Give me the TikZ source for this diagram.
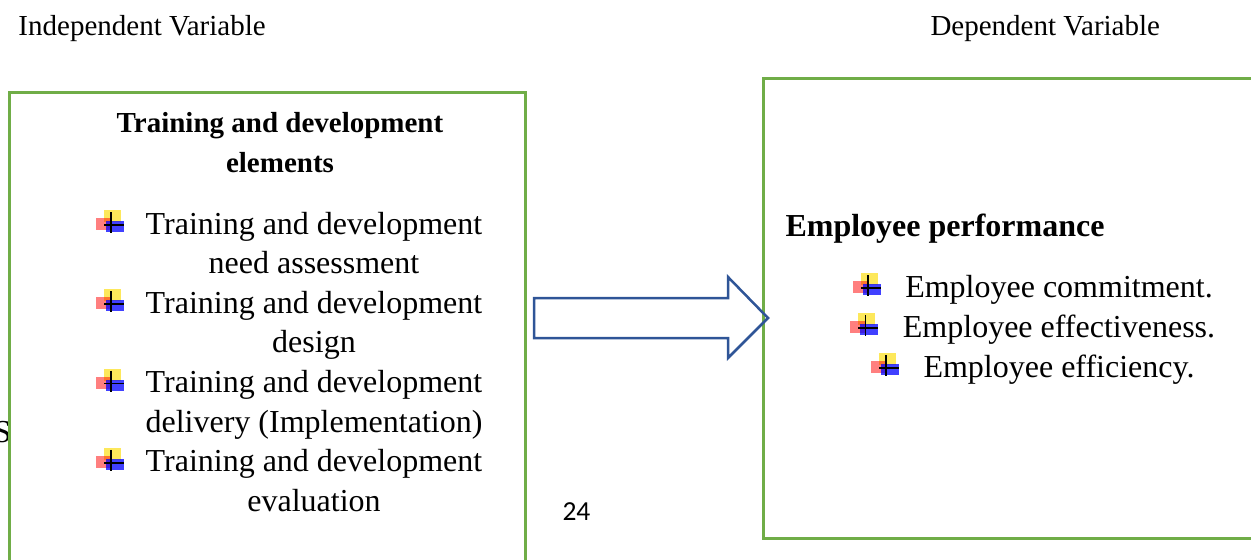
\documentclass[tikz,border=0pt]{standalone}
\usepackage{fontspec}
\setmainfont{Liberation Serif}
\newfontfamily\calibri{Carlito}
\usetikzlibrary{calc}

\definecolor{boxgreen}{RGB}{112,173,71}
\definecolor{arrowblue}{RGB}{47,85,151}

\tikzset{
  varbox/.style={draw=boxgreen, line width=1.2pt, fill=white},
  heading/.style={font=\fontsize{11.6}{14}\selectfont\bfseries, inner sep=0},
  listline/.style={font=\fontsize{12.8}{15.8}\selectfont, anchor=base, inner sep=0},
  varlabel/.style={font=\fontsize{11.6}{14}\selectfont, anchor=base west, inner sep=0},
  blockarrow/.style={draw=arrowblue, line width=1pt, line join=miter},
  tdicon/.pic={
    \fill[yellow!80!orange, opacity=0.65] (-8,-13) rectangle (9,-1);
    \fill[red, opacity=0.5] (-16,-5) rectangle (0,7);
    \fill[blue, opacity=0.75] (-6,-2) rectangle (12,9);
    \draw[black, line width=0.7pt] (-1,-11) -- (-1,10) (-8,2) -- (12,2);
  }
}

\begin{document}
\begin{tikzpicture}[x=0.4pt,y=-0.4pt]
      \useasboundingbox (0,0) rectangle (1251,559);
      \clip (0,0) rectangle (1251,559);

      % column titles
      \node[varlabel] (indep) at (18,36) {Independent Variable};
      \node[varlabel] (dep) at (930,36) {Dependent Variable};

      % stray letter behind the left box
      \node[listline, anchor=base west] (stray) at (-7,442) {S};

      % the two boxes
      \draw[varbox] (9,93) rectangle (525,580);
      \draw[varbox] (763,79) rectangle (1270,538);

      % left box
      \node[heading, anchor=base] (elemtitle) at (280,133) {Training and development};
      \node[heading, anchor=base] (elemtitle2) at (280,173) {elements};
      \def \Items{
        1/need assessment,
        2/design,
        3/delivery (Implementation),
        4/evaluation}
      \foreach \i / \rest in \Items{
        \node[listline] (elem\i) at (314, {234+79.3*(\i-1)}) {Training and development};
        \node[listline] (elem\i b) at (314, {273.6+79.3*(\i-1)}) {\rest};
        \pic at ($(elem\i.base west)+(-33,-11)$) {tdicon};
      }

      % right box
      \node[heading, font=\fontsize{12.8}{15.8}\selectfont\bfseries, anchor=base west] (perftitle) at (785,236) {Employee performance};
      \def \Measures{
        1/commitment.,
        2/effectiveness.,
        3/efficiency.}
      \foreach \i / \word in \Measures{
        \node[listline] (perf\i) at (1059, {297+40*(\i-1)}) {Employee \word};
        \pic at ($(perf\i.base west)+(-36,-11)$) {tdicon};
      }

      % arrow between the boxes
      \draw[blockarrow] (534,298) -- (728,298) -- (728,277) -- (768,318)
        -- (728,358) -- (728,338) -- (534,338) -- cycle;

      % page number
      \node[inner sep=0, anchor=base west, font=\calibri\fontsize{11}{13}\selectfont] (pageno) at (562,520) {24};
\end{tikzpicture}
\end{document}
